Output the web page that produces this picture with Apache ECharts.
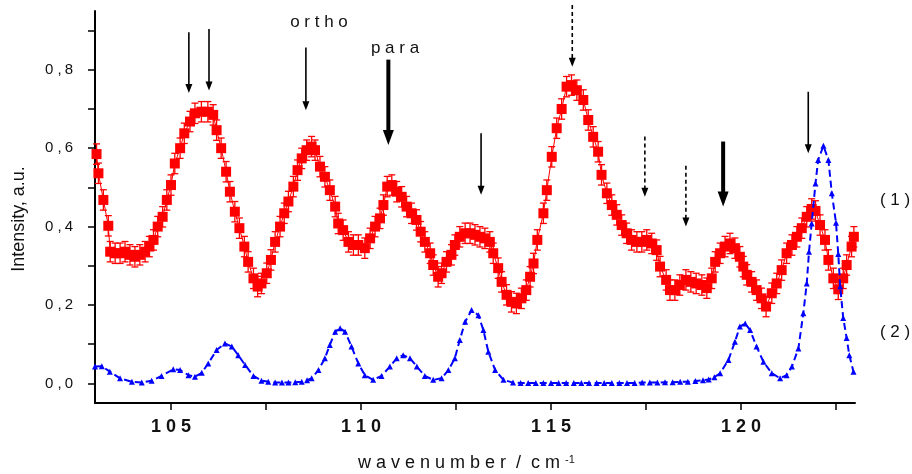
<!DOCTYPE html>
<html>
<head>
<meta charset="utf-8">
<script src="https://cdn.jsdelivr.net/npm/echarts@6/dist/echarts.min.js"></script>
<style>html,body{margin:0;padding:0;background:#fff}#c{width:912px;height:474px}</style>
</head>
<body>
<div id="c"></div>
<script>
// Series (1): measured spectrum (red squares with error bars)
var wn1 = [103.04,103.09,103.22,103.35,103.40,103.53,103.66,103.79,103.92,104.05,104.18,104.32,104.43,104.54,104.65,104.78,104.89,105.00,105.10,105.24,105.35,105.50,105.63,105.80,105.97,106.11,106.20,106.32,106.45,106.55,106.68,106.80,106.93,107.03,107.17,107.28,107.38,107.52,107.63,107.74,107.87,107.98,108.09,108.22,108.33,108.44,108.57,108.70,108.79,108.92,109.05,109.18,109.32,109.40,109.53,109.67,109.80,109.93,110.10,110.24,110.37,110.50,110.59,110.69,110.81,110.94,111.07,111.20,111.33,111.46,111.57,111.68,111.82,111.90,112.03,112.12,112.25,112.38,112.47,112.60,112.74,112.87,113.00,113.13,113.26,113.39,113.48,113.61,113.70,113.83,113.96,114.09,114.22,114.35,114.45,114.54,114.64,114.80,114.89,115.02,115.15,115.28,115.41,115.54,115.68,115.85,115.98,116.11,116.24,116.33,116.47,116.60,116.73,116.86,116.99,117.12,117.26,117.39,117.52,117.65,117.78,117.87,118.03,118.13,118.26,118.39,118.55,118.68,118.82,118.97,119.10,119.23,119.32,119.45,119.58,119.71,119.84,119.97,120.06,120.15,120.28,120.41,120.54,120.66,120.81,120.94,121.07,121.20,121.34,121.47,121.60,121.73,121.86,121.96,122.08,122.21,122.30,122.43,122.56,122.69,122.78,122.91,122.97];
var int1 = [0.585,0.536,0.468,0.402,0.336,0.332,0.332,0.336,0.328,0.323,0.328,0.336,0.349,0.366,0.400,0.425,0.468,0.506,0.561,0.600,0.638,0.668,0.689,0.693,0.693,0.685,0.646,0.600,0.540,0.489,0.438,0.396,0.349,0.310,0.268,0.247,0.255,0.281,0.315,0.361,0.400,0.434,0.464,0.502,0.544,0.574,0.595,0.604,0.595,0.553,0.527,0.493,0.451,0.408,0.391,0.361,0.353,0.353,0.345,0.370,0.400,0.421,0.455,0.502,0.506,0.489,0.476,0.451,0.434,0.417,0.387,0.361,0.332,0.302,0.272,0.281,0.310,0.328,0.353,0.374,0.383,0.383,0.379,0.374,0.370,0.361,0.332,0.294,0.259,0.226,0.208,0.204,0.217,0.238,0.272,0.306,0.366,0.434,0.493,0.578,0.651,0.700,0.757,0.761,0.748,0.723,0.672,0.629,0.591,0.532,0.485,0.455,0.430,0.404,0.383,0.366,0.361,0.361,0.366,0.357,0.340,0.298,0.264,0.238,0.238,0.251,0.264,0.259,0.255,0.251,0.243,0.268,0.310,0.332,0.349,0.357,0.345,0.323,0.298,0.277,0.259,0.238,0.217,0.196,0.230,0.255,0.289,0.332,0.353,0.374,0.396,0.425,0.445,0.440,0.404,0.366,0.315,0.268,0.240,0.268,0.302,0.349,0.374];
var err1 = 0.026;

// Series (2): calculated spectrum (blue triangles, dashed)
var wn2 = [103.00,103.18,103.39,103.66,103.97,104.23,104.49,104.75,105.06,105.24,105.46,105.63,105.81,105.98,106.20,106.42,106.60,106.77,106.95,107.17,107.38,107.56,107.74,107.92,108.09,108.27,108.44,108.58,108.70,108.88,109.05,109.18,109.32,109.45,109.58,109.75,109.93,110.10,110.32,110.54,110.76,110.94,111.11,111.29,111.47,111.68,111.90,112.12,112.30,112.47,112.60,112.74,112.91,113.09,113.22,113.35,113.53,113.75,114.00,114.20,114.40,114.60,114.80,115.00,115.20,115.40,115.60,115.80,116.00,116.20,116.40,116.60,116.80,117.00,117.20,117.40,117.60,117.80,118.00,118.20,118.40,118.60,118.80,119.00,119.15,119.30,119.45,119.67,119.84,119.97,120.11,120.24,120.41,120.59,120.81,121.03,121.20,121.34,121.51,121.64,121.73,121.79,121.86,121.96,122.03,122.17,122.30,122.39,122.50,122.56,122.61,122.69,122.78,122.85,122.96];
var int2 = [0.043,0.044,0.030,0.013,0.004,0.002,0.007,0.019,0.036,0.034,0.021,0.017,0.027,0.051,0.085,0.102,0.094,0.072,0.047,0.019,0.007,0.004,0.002,0.002,0.002,0.003,0.004,0.008,0.013,0.034,0.064,0.098,0.132,0.141,0.132,0.094,0.051,0.021,0.009,0.019,0.043,0.064,0.072,0.064,0.043,0.019,0.009,0.013,0.034,0.064,0.111,0.157,0.187,0.174,0.136,0.081,0.034,0.009,0.002,0.001,0.001,0.001,0.001,0.001,0.001,0.001,0.001,0.001,0.001,0.001,0.001,0.001,0.001,0.001,0.001,0.002,0.002,0.002,0.003,0.003,0.004,0.004,0.006,0.008,0.010,0.016,0.026,0.060,0.106,0.145,0.153,0.136,0.094,0.055,0.026,0.013,0.021,0.043,0.089,0.179,0.255,0.336,0.408,0.510,0.570,0.606,0.570,0.485,0.410,0.330,0.247,0.167,0.116,0.072,0.030];

// Arrow annotations: x, y of tail, y of tip, style (0 thin, 1 thick, 2 dashed)
var arrowX   = [105.47,106.00,108.55,110.72,113.16,115.56,117.47,118.55,119.53,121.77];
var arrowTop = [0.896,0.904,0.857,0.826,0.638,0.965,0.630,0.555,0.617,0.744];
var arrowTip = [0.741,0.747,0.697,0.608,0.481,0.808,0.476,0.400,0.451,0.587];
var arrowKind= [0,0,0,1,0,2,2,2,1,0];

// Axis ticks and labels
var xTicks = [105,107.5,110,112.5,115,117.5,120,122.5];
var xLabels = [105,110,115,120];
var yTicks = [0,0.1,0.2,0.3,0.4,0.5,0.6,0.7,0.8,0.9];
var yLabels = [0,0.2,0.4,0.6,0.8];

var FONT = "'Liberation Sans', Arial, sans-serif";

var s1 = wn1.map(function(x,i){return [x,int1[i]];});
var e1 = wn1.map(function(x,i){return [x,int1[i]-err1,int1[i]+err1];});
var s2 = wn2.map(function(x,i){return [x,int2[i]];});
var ar = arrowX.map(function(x,i){return [x,arrowTop[i],arrowTip[i],arrowKind[i]];});

var chart = echarts.init(document.getElementById('c'), null, {renderer:'canvas'});
chart.setOption({
  animation:false,
  backgroundColor:'#ffffff',
  grid:{left:95,right:57,top:11,bottom:71},
  xAxis:{
    type:'value',min:103,max:123,
    axisLine:{show:true,onZero:false,lineStyle:{color:'#000',width:2}},
    axisTick:{show:true,inside:false,length:7,customValues:xTicks,lineStyle:{color:'#000',width:1.5}},
    axisLabel:{customValues:xLabels,margin:15,color:'#111',fontFamily:FONT,fontSize:18,fontWeight:'bold',
      formatter:function(v){return String(Math.round(v)).split('').join(' ');}},
    splitLine:{show:false}
  },
  yAxis:{
    type:'value',min:-0.05,max:0.95,
    axisLine:{show:true,onZero:false,lineStyle:{color:'#000',width:2}},
    axisTick:{show:true,inside:false,length:7,customValues:yTicks,lineStyle:{color:'#000',width:1.5}},
    axisLabel:{customValues:yLabels,margin:22,color:'#111',fontFamily:FONT,fontSize:15,
      formatter:function(v){var s=v.toFixed(1).split('.');return s[0]+' ,\u2009'+s[1];}},
    splitLine:{show:false}
  },
  series:[
    {type:'custom',name:'err1',data:e1,z:2,
      renderItem:function(p,api){
        var lo=api.coord([api.value(0),api.value(1)]);
        var hi=api.coord([api.value(0),api.value(2)]);
        var st={stroke:'#ff0000',lineWidth:1.3,fill:null};
        return {type:'group',children:[
          {type:'line',shape:{x1:lo[0],y1:lo[1],x2:hi[0],y2:hi[1]},style:st},
          {type:'line',shape:{x1:lo[0]-3.5,y1:lo[1],x2:lo[0]+3.5,y2:lo[1]},style:st},
          {type:'line',shape:{x1:hi[0]-3.5,y1:hi[1],x2:hi[0]+3.5,y2:hi[1]},style:st}
        ]};
      }},
    {type:'line',name:'(1)',data:s1,z:3,symbol:'rect',symbolSize:10,showAllSymbol:true,
      itemStyle:{color:'#ff0000'},lineStyle:{color:'#ff0000',width:1}},
    {type:'line',name:'(2)',data:s2,z:4,symbol:'triangle',symbolSize:6,showAllSymbol:true,
      itemStyle:{color:'#0000ff'},lineStyle:{color:'#0000ff',width:2,type:[7,4]}},
    {type:'custom',name:'arrows',data:ar,z:5,clip:false,
      renderItem:function(p,api){
        var x=api.value(0), kind=api.value(3);
        var t=api.coord([x,api.value(1)]);
        var b=api.coord([x,api.value(2)]);
        var hl = kind===1?15:9, hw = kind===1?11:7, lw = kind===1?4:1.6;
        var st={stroke:'#000',lineWidth:lw,fill:null};
        if(kind===2){st.lineDash=[4,3];}
        return {type:'group',children:[
          {type:'line',shape:{x1:t[0],y1:t[1],x2:b[0],y2:b[1]-hl+1},style:st},
          {type:'polygon',shape:{points:[[b[0],b[1]],[b[0]-hw/2,b[1]-hl],[b[0]+hw/2,b[1]-hl]]},style:{fill:'#000'}}
        ]};
      }}
  ],
  graphic:[
    {type:'text',x:19,y:219,rotation:Math.PI/2,style:{text:'Intensity, a.u.',fontFamily:FONT,fontSize:18,fill:'#111',align:'center',verticalAlign:'middle'}},
    {type:'text',x:358,y:463,style:{text:'w a v e n u m b e r  /  c m {s|-1}',rich:{s:{fontSize:11,fontFamily:FONT,fill:'#111',verticalAlign:'top',lineHeight:11,padding:[0,0,12,0]}},fontFamily:FONT,fontSize:18,fill:'#111',align:'left',verticalAlign:'middle'}},
    {type:'text',x:319,y:22,style:{text:'o r t h o',fontFamily:FONT,fontSize:17,fill:'#111',align:'center',verticalAlign:'middle'}},
    {type:'text',x:395,y:48,style:{text:'p a r a',fontFamily:FONT,fontSize:17,fill:'#111',align:'center',verticalAlign:'middle'}},
    {type:'text',x:895,y:200,style:{text:'( 1 )',fontFamily:FONT,fontSize:17,fill:'#111',align:'center',verticalAlign:'middle'}},
    {type:'text',x:895,y:332,style:{text:'( 2 )',fontFamily:FONT,fontSize:17,fill:'#111',align:'center',verticalAlign:'middle'}}
  ]
});
</script>
</body>
</html>
